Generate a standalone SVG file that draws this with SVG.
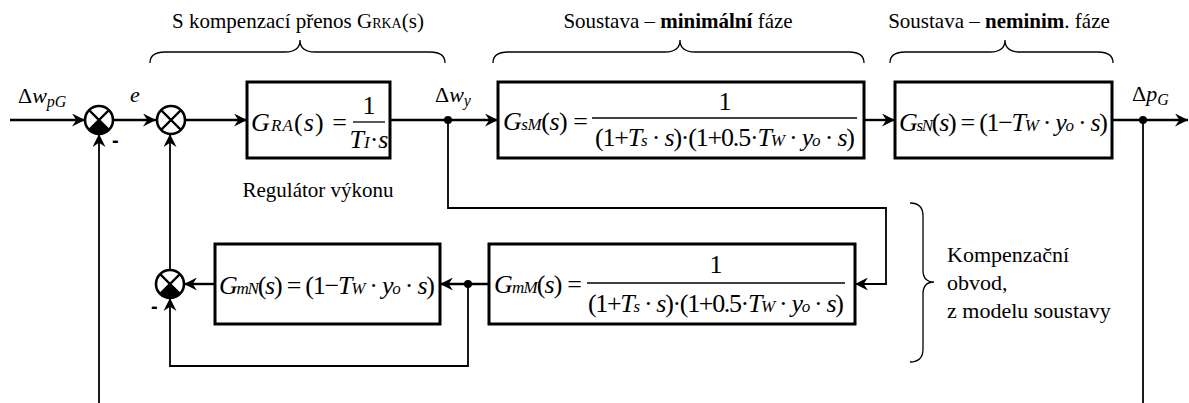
<svg xmlns="http://www.w3.org/2000/svg" width="1189" height="403" viewBox="0 0 1189 403" font-family="'Liberation Serif','Times New Roman',serif">
<style>
text{font-family:"Liberation Serif","Times New Roman",serif;fill:#000}
.lbl{font-family:"Liberation Serif","Times New Roman",serif;font-size:21px}
.fm{font-family:"Liberation Serif","Times New Roman",serif;font-size:26px}
.sb{font-size:17px;font-style:italic}
.it{font-style:italic}
.box{fill:#fff;stroke:#000;stroke-width:3}
.sum{fill:#fff;stroke:#000;stroke-width:2.6}
.xx{stroke:#000;stroke-width:2.2}
.w{fill:none;stroke:#000;stroke-width:2.4}
.w2{fill:none;stroke:#000;stroke-width:1.8}
.br{fill:none;stroke:#000;stroke-width:1.3}
.fl{stroke:#000;stroke-width:1.3}
.neg{font-family:"Liberation Sans",Arial,sans-serif;font-size:20px;font-weight:bold}
</style>
<defs>
<marker id="ar" viewBox="0 0 12 12" refX="12" refY="6" markerWidth="13" markerHeight="13" markerUnits="userSpaceOnUse" orient="auto">
<path d="M0,0 L12,6 L0,12 L4,6 z" fill="#000"/>
</marker>
</defs>

<g id="connectors">
<path class="w" d="M10,120 H85" marker-end="url(#ar)"/>
<path class="w" d="M113,120 H156" marker-end="url(#ar)"/>
<path class="w" d="M185,120 H247" marker-end="url(#ar)"/>
<path class="w" d="M390,120 H498" marker-end="url(#ar)"/>
<path class="w" d="M864,120 H895" marker-end="url(#ar)"/>
<path class="w" d="M1112,120 H1188" marker-end="url(#ar)"/>
<path class="w2" d="M1143,120 V403"/>
<path class="w2" d="M99,403 V134" marker-end="url(#ar)"/>
<path class="w2" d="M448,120 V208 H886 V284 H855" marker-end="url(#ar)"/>
<path class="w" d="M489,284 H440" marker-end="url(#ar)"/>
<path class="w" d="M215,284 H184" marker-end="url(#ar)"/>
<path class="w2" d="M468,284 V366 H170 V298" marker-end="url(#ar)"/>
<path class="w2" d="M170,270 V134" marker-end="url(#ar)"/>
<circle cx="448" cy="120" r="4"/>
<circle cx="1143" cy="120" r="4"/>
<circle cx="468" cy="284" r="4"/>
</g>

<g id="sum1">
<circle class="sum" cx="99" cy="120" r="14"/>
<path d="M99,120 L108.9,129.9 A14,14 0 0 1 89.1,129.9 Z" fill="#000"/>
<path class="xx" d="M89.1,110.1 L108.9,129.9 M108.9,110.1 L89.1,129.9"/>
<text class="neg" x="112" y="147">-</text>
</g>
<g id="sum2">
<circle class="sum" cx="171" cy="120" r="14"/>
<path class="xx" d="M161.1,110.1 L180.9,129.9 M180.9,110.1 L161.1,129.9"/>
</g>
<g id="sum3">
<circle class="sum" cx="170" cy="284" r="14"/>
<path d="M170,284 L179.9,293.9 A14,14 0 0 1 160.1,293.9 Z" fill="#000"/>
<path class="xx" d="M160.1,274.1 L179.9,293.9 M179.9,274.1 L160.1,293.9"/>
<text class="neg" x="151" y="313">-</text>
</g>

<g id="GRA">
<rect class="box" x="247" y="82" width="143" height="76"/>
<text class="fm" x="251" y="131" textLength="96"><tspan class="it">G</tspan><tspan class="sb">RA</tspan>(<tspan class="it">s</tspan>) =</text>
<line class="fl" x1="353" y1="122" x2="385" y2="122"/>
<text class="fm" x="369" y="114" text-anchor="middle">1</text>
<text class="fm" x="369" y="148" text-anchor="middle"><tspan class="it">T</tspan><tspan class="sb">I</tspan>·<tspan class="it">s</tspan></text>
<text class="lbl" x="318" y="197" text-anchor="middle">Regulátor výkonu</text>
</g>

<g id="GsM">
<rect class="box" x="498" y="82" width="366" height="76"/>
<text class="fm" x="503" y="130" textLength="85"><tspan class="it">G</tspan><tspan class="sb">sM</tspan>(<tspan class="it">s</tspan>) =</text>
<line class="fl" x1="592" y1="118" x2="857" y2="118"/>
<text class="fm" x="725" y="110" text-anchor="middle">1</text>
<text class="fm" x="725" y="146" text-anchor="middle" textLength="260">(1+<tspan class="it">T</tspan><tspan class="sb">s</tspan> · <tspan class="it">s</tspan>)·(1+0.5·<tspan class="it">T</tspan><tspan class="sb">W</tspan> · <tspan class="it">y</tspan><tspan class="sb">o</tspan> · <tspan class="it">s</tspan>)</text>
</g>

<g id="GsN">
<rect class="box" x="895" y="82" width="217" height="76"/>
<text class="fm" x="899" y="131" textLength="209"><tspan class="it">G</tspan><tspan class="sb">sN</tspan>(<tspan class="it">s</tspan>) = (1−<tspan class="it">T</tspan><tspan class="sb">W</tspan> · <tspan class="it">y</tspan><tspan class="sb">o</tspan> · <tspan class="it">s</tspan>)</text>
</g>

<g id="GmM">
<rect class="box" x="489" y="244" width="366" height="80"/>
<text class="fm" x="494" y="293" textLength="88"><tspan class="it">G</tspan><tspan class="sb">mM</tspan>(<tspan class="it">s</tspan>) =</text>
<line class="fl" x1="587" y1="283" x2="845" y2="283"/>
<text class="fm" x="716" y="273" text-anchor="middle">1</text>
<text class="fm" x="716" y="312" text-anchor="middle" textLength="256">(1+<tspan class="it">T</tspan><tspan class="sb">s</tspan> · <tspan class="it">s</tspan>)·(1+0.5·<tspan class="it">T</tspan><tspan class="sb">W</tspan> · <tspan class="it">y</tspan><tspan class="sb">o</tspan> · <tspan class="it">s</tspan>)</text>
</g>

<g id="GmN">
<rect class="box" x="215" y="244" width="225" height="80"/>
<text class="fm" x="219" y="294" textLength="216"><tspan class="it">G</tspan><tspan class="sb">mN</tspan>(<tspan class="it">s</tspan>) = (1−<tspan class="it">T</tspan><tspan class="sb">W</tspan> · <tspan class="it">y</tspan><tspan class="sb">o</tspan> · <tspan class="it">s</tspan>)</text>
</g>

<g id="labels">
<text x="18" y="103" font-size="22">Δ<tspan class="it">w</tspan><tspan class="it" font-size="16" dy="4">pG</tspan></text>
<text x="130" y="102" class="it" font-size="22">e</text>
<text x="435" y="102" font-size="22">Δ<tspan class="it">w</tspan><tspan class="it" font-size="16" dy="4">y</tspan></text>
<text x="1132" y="101" font-size="22">Δ<tspan class="it">p</tspan><tspan class="it" font-size="16" dy="4">G</tspan></text>
</g>

<g id="braces">
<path class="br" d="M150,63 Q150,52 165,52 H285 Q300,52 300,40 Q300,52 315,52 H430 Q445,52 445,63"/>
<path class="br" d="M493,63 Q493,52 508,52 H665 Q680,52 680,40 Q680,52 695,52 H849 Q864,52 864,63"/>
<path class="br" d="M890,63 Q890,52 905,52 H990 Q1005,52 1005,40 Q1005,52 1020,52 H1098 Q1113,52 1113,63"/>
<path class="br" d="M910,203 Q923,203 923,216 V270 Q923,282 934,282 Q923,282 923,294 V349 Q923,362 910,362"/>
<text class="lbl" x="298" y="28" text-anchor="middle">S kompenzací přenos G<tspan font-size="14">RKA</tspan>(s)</text>
<text class="lbl" x="678" y="28" text-anchor="middle">Soustava – <tspan font-weight="bold">minimální</tspan> fáze</text>
<text class="lbl" x="999" y="28" text-anchor="middle">Soustava – <tspan font-weight="bold">neminim</tspan>. fáze</text>
<text class="lbl" x="947" y="262" style="font-size:22px">Kompenzační</text>
<text class="lbl" x="947" y="290" style="font-size:22px">obvod,</text>
<text class="lbl" x="947" y="318" style="font-size:22px">z modelu soustavy</text>
</g>
</svg>
